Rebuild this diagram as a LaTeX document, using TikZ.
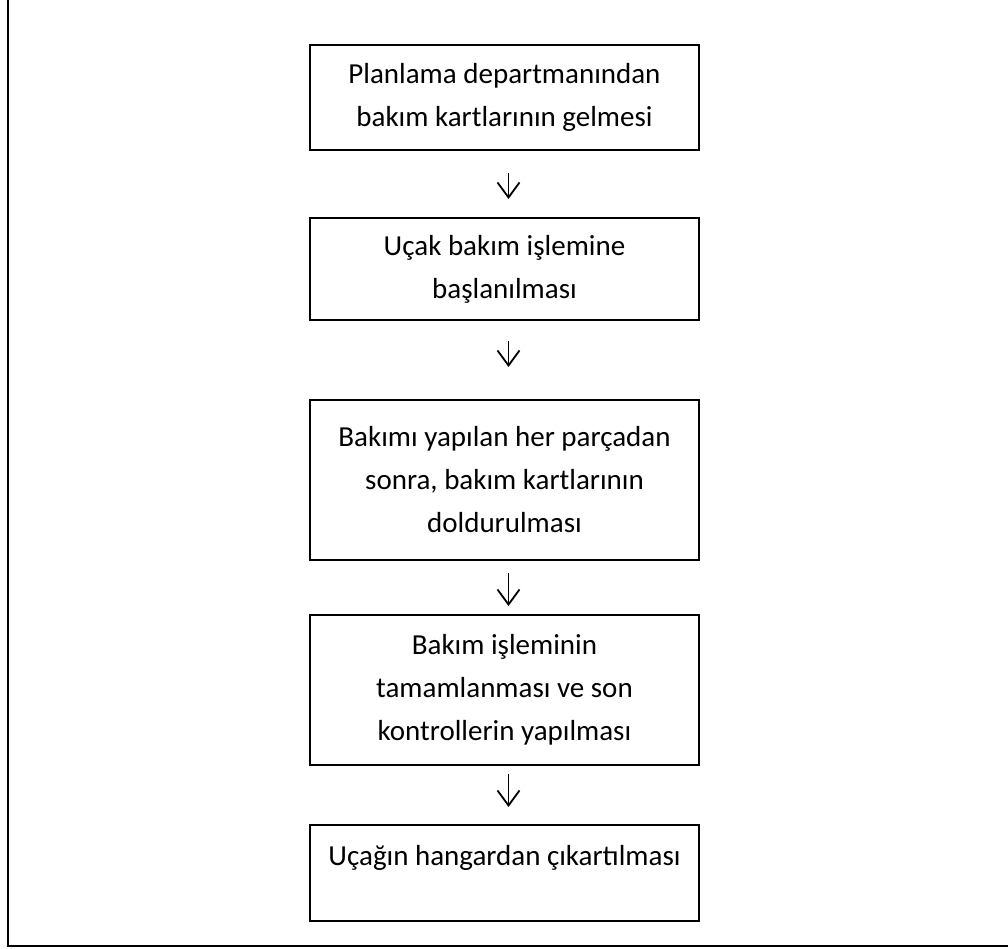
\documentclass[tikz,border=0pt]{standalone}
\usepackage{fontspec}
\setmainfont{Carlito}
\usetikzlibrary{arrows.meta}
\begin{document}
\begin{tikzpicture}[x=1pt, y=-1pt,
  stepbox/.style={draw, line width=2pt, minimum width=389pt, align=center,
    inner sep=0pt, font=\fontsize{29}{43}\selectfont},
  flowarrow/.style={line width=1.8pt, -{Straight Barb[length=15pt, width=22pt, line width=1.8pt]}}]
  \useasboundingbox (0,0) rectangle (1008,949);
  % page frame (left and bottom edges)
  \draw[line width=2.5pt] (8,0) -- (8,946) -- (1008,946);
  % process steps
  \node[stepbox, minimum height=105pt] (b1) at (504.5,97.5)
    {Planlama departmanından\\bakım kartlarının gelmesi};
  \node[stepbox, minimum height=102pt] (b2) at (504.5,269)
    {Uçak bakım işlemine\\başlanılması};
  \node[stepbox, minimum height=160pt] (b3) at (504.5,480)
    {Bakımı yapılan her parçadan\\sonra, bakım kartlarının\\doldurulması};
  \node[stepbox, minimum height=150pt] (b4) at (504.5,690)
    {Bakım işleminin\\tamamlanması ve son\\kontrollerin yapılması};
  \node[stepbox, minimum height=96pt, text height=20pt, text depth=36pt] (b5) at (504.5,873)
    {Uçağın hangardan çıkartılması};
  % connectors
  \draw[flowarrow, shorten <=22pt, shorten >=18pt] ([xshift=4pt]b1.south) -- ([xshift=4pt]b2.north);
  \draw[flowarrow, shorten <=20pt, shorten >=32pt] ([xshift=4pt]b2.south) -- ([xshift=4pt]b3.north);
  \draw[flowarrow, shorten <=12pt, shorten >=8pt] ([xshift=4pt]b3.south) -- ([xshift=4pt]b4.north);
  \draw[flowarrow, shorten <=8pt, shorten >=17pt] ([xshift=4pt]b4.south) -- ([xshift=4pt]b5.north);
\end{tikzpicture}
\end{document}
